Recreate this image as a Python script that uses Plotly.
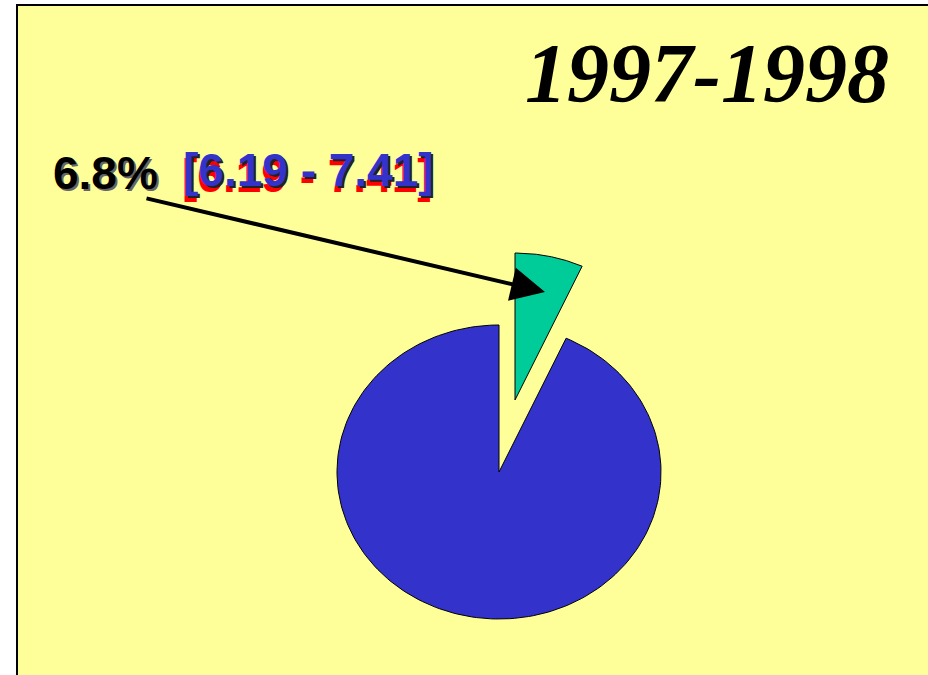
import numpy as np
import plotly.graph_objects as go

# Data
labels = ["Share", "Rest"]
values = [6.8, 93.2]
colors = ["#00CC99", "#3333CC"]
title_text = "1997-1998"
pct_text = "6.8%"
ci_text = "[6.19 - 7.41]"

W, H = 928, 675
cx, cy, rx, ry = 499, 472, 162, 147
pull = [(16, -72), (0, 0)]

fig = go.Figure()

# slices drawn as elliptical wedges, clockwise from 12 o'clock
frac = np.array(values) / sum(values)
start = np.concatenate([[0], np.cumsum(frac)[:-1]]) * 2 * np.pi
end = np.cumsum(frac) * 2 * np.pi
for lab, a0, a1, col, (dx, dy) in zip(labels, start, end, colors, pull):
    t = np.linspace(a0, a1, 200)
    xs = np.concatenate([[cx], cx + rx * np.sin(t), [cx]]) + dx
    ys = np.concatenate([[cy], cy - ry * np.cos(t), [cy]]) + dy
    fig.add_trace(go.Scatter(x=xs, y=ys, mode="lines", fill="toself",
                             fillcolor=col, line=dict(color="black", width=1),
                             name=lab, hoverinfo="skip", showlegend=False))

# yellow panel
fig.add_shape(type="rect", xref="x", yref="y", x0=17, y0=5, x1=W + 10, y1=H + 10,
              fillcolor="#FFFF99", line=dict(color="black", width=2), layer="below")

bold_sans = "Liberation Sans"

# title
fig.add_annotation(x=891, y=73, text="<b><i>" + title_text + "</i></b>", showarrow=False,
                   xanchor="right", yanchor="middle",
                   font=dict(family="Liberation Serif", size=84, color="black"))

# percent label with soft shadow
fig.add_annotation(x=51 + 2, y=173 + 2, text="<b>" + pct_text + "</b>", showarrow=False,
                   xanchor="left", yanchor="middle",
                   font=dict(family=bold_sans, size=46, color="#666666"))
fig.add_annotation(x=51, y=173, text="<b>" + pct_text + "</b>", showarrow=False,
                   xanchor="left", yanchor="middle",
                   font=dict(family=bold_sans, size=46, color="black"))

# confidence interval: red, dark and blue layers
for off, col in [((-1, 6), "#FF0000"), ((2, 2), "#222222"), ((0, 0), "#3333CC")]:
    fig.add_annotation(x=181 + off[0], y=170 + off[1], text="<b>" + ci_text + "</b>",
                       showarrow=False, xanchor="left", yanchor="middle",
                       font=dict(family=bold_sans, size=46, color=col))

# arrow
fig.add_annotation(x=545, y=292, ax=145, ay=198, xref="x", yref="y", axref="x", ayref="y",
                   text="", showarrow=True, arrowhead=2, arrowsize=1.7, arrowwidth=4,
                   arrowcolor="black")

fig.update_xaxes(range=[0, W], visible=False, fixedrange=True)
fig.update_yaxes(range=[H, 0], visible=False, fixedrange=True)
fig.update_layout(width=W, height=H, margin=dict(l=0, r=0, t=0, b=0),
                  paper_bgcolor="white", plot_bgcolor="white", showlegend=False)

fig.write_html("out.html", config={"displayModeBar": False},
               post_script="document.body.style.margin='0';document.body.style.overflow='hidden';")
